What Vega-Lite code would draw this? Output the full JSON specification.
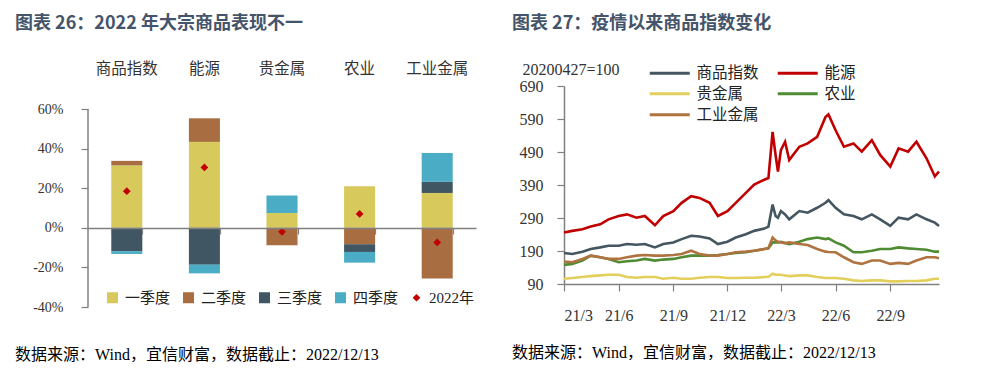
{
  "$schema": "https://vega.github.io/schema/vega-lite/v6.json",
  "background": "white",
  "padding": {"left": 15, "top": 15, "right": 5, "bottom": 0},
  "spacing": 36,
  "resolve": {"scale": {"color": "independent"}, "legend": {"color": "independent"}},
  "config": {
    "view": {"stroke": null},
    "font": "Liberation Serif, Noto Sans CJK SC",
    "axis": {"grid": false, "labelColor": "#333333", "domainColor": "#808080", "tickColor": "#808080", "domainWidth": 1.5, "tickWidth": 1.2, "labelFont": "Liberation Serif, Noto Sans CJK SC"},
    "legend": {"padding": 0, "labelColor": "#222222", "labelFont": "Noto Sans CJK SC"},
    "title": {"font": "Noto Sans CJK SC", "fontWeight": "bold", "fontSize": 18, "color": "#44546A"}
  },
  "hconcat": [
    {
      "title": {"text": "数据来源：Wind，宜信财富，数据截止：2022/12/13", "orient": "bottom", "anchor": "start", "offset": 33, "fontSize": 16, "fontWeight": "normal", "font": "Liberation Serif, Noto Sans CJK SC", "color": "#000000"},
      "vconcat": [
        {
          "title": {"text": "图表 26：2022 年大宗商品表现不一", "anchor": "start", "frame": "group", "dx": -73, "offset": 28},
          "width": 388,
          "height": 221,
          "data": {"values": [
            {"c": "商品指数", "s": "一季度", "q": 1, "v": 0.315},
            {"c": "商品指数", "s": "二季度", "q": 2, "v": 0.023},
            {"c": "商品指数", "s": "三季度", "q": 3, "v": -0.118},
            {"c": "商品指数", "s": "四季度", "q": 4, "v": -0.014},
            {"c": "商品指数", "s": "2022年", "q": 5, "v": 0.185},
            {"c": "能源", "s": "一季度", "q": 1, "v": 0.434},
            {"c": "能源", "s": "二季度", "q": 2, "v": 0.119},
            {"c": "能源", "s": "三季度", "q": 3, "v": -0.186},
            {"c": "能源", "s": "四季度", "q": 4, "v": -0.044},
            {"c": "能源", "s": "2022年", "q": 5, "v": 0.305},
            {"c": "贵金属", "s": "一季度", "q": 1, "v": 0.075},
            {"c": "贵金属", "s": "二季度", "q": 2, "v": -0.088},
            {"c": "贵金属", "s": "三季度", "q": 3, "v": 0.0},
            {"c": "贵金属", "s": "四季度", "q": 4, "v": 0.088},
            {"c": "贵金属", "s": "2022年", "q": 5, "v": -0.020},
            {"c": "农业", "s": "一季度", "q": 1, "v": 0.210},
            {"c": "农业", "s": "二季度", "q": 2, "v": -0.083},
            {"c": "农业", "s": "三季度", "q": 3, "v": -0.039},
            {"c": "农业", "s": "四季度", "q": 4, "v": -0.054},
            {"c": "农业", "s": "2022年", "q": 5, "v": 0.070},
            {"c": "工业金属", "s": "一季度", "q": 1, "v": 0.176},
            {"c": "工业金属", "s": "二季度", "q": 2, "v": -0.256},
            {"c": "工业金属", "s": "三季度", "q": 3, "v": 0.056},
            {"c": "工业金属", "s": "四季度", "q": 4, "v": 0.146},
            {"c": "工业金属", "s": "2022年", "q": 5, "v": -0.074}
          ]},
          "resolve": {"axis": {"x": "independent", "y": "independent"}},
          "layer": [
            {
              "transform": [{"filter": "datum.s !== '2022年'"}],
              "mark": {"type": "bar"},
              "encoding": {
                "x": {"field": "c", "type": "nominal", "sort": ["商品指数", "能源", "贵金属", "农业", "工业金属"],
                  "scale": {"paddingInner": 0.6, "paddingOuter": 0.3},
                  "axis": {"orient": "top", "title": null, "labelAngle": 0, "ticks": false, "tickSize": 0, "domain": false, "labelPadding": 10, "labelFontSize": 15.5, "labelFont": "Noto Sans CJK SC", "labelColor": "#333333"}},
                "y": {"field": "v", "type": "quantitative", "stack": "zero",
                  "scale": {"domain": [-0.4, 0.7162], "nice": false},
                  "axis": {"title": null, "values": [-0.4, -0.2, 0, 0.2, 0.4, 0.6], "format": ".0%", "labelExpr": "replace(datum.label, '−', '-')", "domain": false, "labelOverlap": false, "tickSize": 7, "labelPadding": 18, "labelFontSize": 14}},
                "color": {"field": "s", "type": "nominal",
                  "scale": {"domain": ["一季度", "二季度", "三季度", "四季度", "2022年"], "range": ["#D8C95C", "#A86D41", "#405662", "#4AACC5", "#C00000"]},
                  "legend": {"orient": "none", "legendX": 17, "legendY": 204, "direction": "horizontal", "title": null, "symbolType": "square", "symbolSize": 121, "symbolStrokeWidth": 0, "labelFontSize": 15, "labelFont": "Liberation Serif, Noto Sans CJK SC", "labelOffset": 5, "columnPadding": 10,
                    "encode": {"symbols": {"update": {"shape": {"signal": "datum.value === '2022年' ? 'diamond' : 'square'"}, "size": {"signal": "datum.value === '2022年' ? 60 : 121"}}}}}},
                "order": {"field": "q", "type": "quantitative"}
              }
            },
            {
              "transform": [{"filter": "datum.s === '2022年'"}],
              "mark": {"type": "point", "shape": "diamond", "filled": true, "size": 60, "opacity": 1},
              "encoding": {
                "x": {"field": "c", "type": "nominal", "sort": ["商品指数", "能源", "贵金属", "农业", "工业金属"],
                  "axis": {"orient": "bottom", "offset": -79, "labels": false, "title": null, "domain": true, "ticks": true, "tickSize": 6, "tickBand": "extent", "zindex": 1}},
                "y": {"field": "v", "type": "quantitative", "stack": null, "axis": null},
                "color": {"field": "s", "type": "nominal"}
              }
            },
            {
              "data": {"values": [{}]},
              "mark": {"type": "rule", "color": "#808080", "strokeWidth": 1.5},
              "encoding": {
                "x": {"datum": "商品指数", "type": "nominal", "bandPosition": -0.75, "axis": null},
                "y": {"datum": -0.4, "type": "quantitative", "axis": null},
                "y2": {"datum": 0.6}
              }
            }
          ]
        }
      ]
    },
    {
      "title": {"text": "数据来源：Wind，宜信财富，数据截止：2022/12/13", "orient": "bottom", "anchor": "start", "offset": 22, "fontSize": 16, "fontWeight": "normal", "font": "Liberation Serif, Noto Sans CJK SC", "color": "#000000"},
      "vconcat": [
        {
          "title": {"text": "图表 27：疫情以来商品指数变化", "anchor": "start", "frame": "group", "dx": -52, "offset": 28},
          "width": 375,
          "height": 198,
          "data": {"values": [
            {"d": "2021-03-01", "商品指数": 184, "能源": 246, "贵金属": 106, "农业": 148, "工业金属": 158},
            {"d": "2021-03-15", "商品指数": 181, "能源": 251, "贵金属": 108, "农业": 151, "工业金属": 156},
            {"d": "2021-04-01", "商品指数": 188, "能源": 256, "贵金属": 111, "农业": 161, "工业金属": 166},
            {"d": "2021-04-15", "商品指数": 196, "能源": 264, "贵金属": 114, "农业": 176, "工业金属": 176},
            {"d": "2021-05-01", "商品指数": 201, "能源": 271, "贵金属": 116, "农业": 171, "工业金属": 171},
            {"d": "2021-05-15", "商品指数": 206, "能源": 286, "贵金属": 118, "农业": 166, "工业金属": 166},
            {"d": "2021-06-01", "商品指数": 206, "能源": 296, "贵金属": 118, "农业": 156, "工业金属": 166},
            {"d": "2021-06-15", "商品指数": 211, "能源": 301, "贵金属": 111, "农业": 159, "工业金属": 171},
            {"d": "2021-07-01", "商品指数": 209, "能源": 291, "贵金属": 109, "农业": 161, "工业金属": 176},
            {"d": "2021-07-15", "商品指数": 211, "能源": 296, "贵金属": 111, "农业": 166, "工业金属": 178},
            {"d": "2021-08-01", "商品指数": 201, "能源": 268, "贵金属": 111, "农业": 161, "工业金属": 176},
            {"d": "2021-08-15", "商品指数": 211, "能源": 296, "贵金属": 106, "农业": 164, "工业金属": 176},
            {"d": "2021-09-01", "商品指数": 216, "能源": 311, "贵金属": 109, "农业": 166, "工业金属": 178},
            {"d": "2021-09-15", "商品指数": 226, "能源": 336, "贵金属": 106, "农业": 171, "工业金属": 181},
            {"d": "2021-10-01", "商品指数": 236, "能源": 356, "贵金属": 106, "农业": 176, "工业金属": 191},
            {"d": "2021-10-15", "商品指数": 234, "能源": 351, "贵金属": 109, "农业": 176, "工业金属": 181},
            {"d": "2021-11-01", "商品指数": 228, "能源": 336, "贵金属": 111, "农业": 176, "工业金属": 176},
            {"d": "2021-11-15", "商品指数": 211, "能源": 296, "贵金属": 111, "农业": 178, "工业金属": 176},
            {"d": "2021-12-01", "商品指数": 218, "能源": 311, "贵金属": 108, "农业": 181, "工业金属": 181},
            {"d": "2021-12-15", "商品指数": 231, "能源": 336, "贵金属": 108, "农业": 184, "工业金属": 186},
            {"d": "2022-01-01", "商品指数": 241, "能源": 366, "贵金属": 109, "农业": 186, "工业金属": 188},
            {"d": "2022-01-15", "商品指数": 251, "能源": 391, "贵金属": 109, "农业": 191, "工业金属": 191},
            {"d": "2022-02-01", "商品指数": 258, "能源": 406, "贵金属": 111, "农业": 196, "工业金属": 196},
            {"d": "2022-02-08", "商品指数": 264, "能源": 411, "贵金属": 112, "农业": 198, "工业金属": 199},
            {"d": "2022-02-15", "商品指数": 331, "能源": 551, "贵金属": 121, "农业": 216, "工业金属": 231},
            {"d": "2022-02-20", "商品指数": 296, "能源": 481, "贵金属": 118, "农业": 216, "工业金属": 222},
            {"d": "2022-02-24", "商品指数": 291, "能源": 431, "贵金属": 118, "农业": 216, "工业金属": 218},
            {"d": "2022-03-01", "商品指数": 311, "能源": 496, "贵金属": 118, "农业": 218, "工业金属": 216},
            {"d": "2022-03-08", "商品指数": 301, "能源": 521, "贵金属": 116, "农业": 214, "工业金属": 214},
            {"d": "2022-03-15", "商品指数": 286, "能源": 466, "贵金属": 114, "农业": 211, "工业金属": 216},
            {"d": "2022-04-01", "商品指数": 311, "能源": 506, "贵金属": 116, "农业": 218, "工业金属": 211},
            {"d": "2022-04-15", "商品指数": 306, "能源": 516, "贵金属": 116, "农业": 226, "工业金属": 208},
            {"d": "2022-05-01", "商品指数": 321, "能源": 536, "贵金属": 111, "农业": 231, "工业金属": 196},
            {"d": "2022-05-15", "商品指数": 336, "能源": 596, "贵金属": 108, "农业": 226, "工业金属": 188},
            {"d": "2022-05-20", "商品指数": 344, "能源": 604, "贵金属": 108, "农业": 228, "工业金属": 187},
            {"d": "2022-06-01", "商品指数": 321, "能源": 556, "贵金属": 108, "农业": 216, "工业金属": 186},
            {"d": "2022-06-15", "商品指数": 301, "能源": 506, "贵金属": 106, "农业": 206, "工业金属": 171},
            {"d": "2022-07-01", "商品指数": 296, "能源": 516, "贵金属": 101, "农业": 186, "工业金属": 156},
            {"d": "2022-07-15", "商品指数": 286, "能源": 491, "贵金属": 99, "农业": 186, "工业金属": 151},
            {"d": "2022-08-01", "商品指数": 301, "能源": 526, "贵金属": 101, "农业": 191, "工业金属": 161},
            {"d": "2022-08-15", "商品指数": 286, "能源": 481, "贵金属": 101, "农业": 196, "工业金属": 161},
            {"d": "2022-09-01", "商品指数": 266, "能源": 446, "贵金属": 98, "农业": 196, "工业金属": 151},
            {"d": "2022-09-15", "商品指数": 291, "能源": 501, "贵金属": 98, "农业": 201, "工业金属": 154},
            {"d": "2022-10-01", "商品指数": 286, "能源": 491, "贵金属": 99, "农业": 198, "工业金属": 151},
            {"d": "2022-10-15", "商品指数": 301, "能源": 521, "贵金属": 99, "农业": 196, "工业金属": 161},
            {"d": "2022-11-01", "商品指数": 286, "能源": 471, "贵金属": 101, "农业": 194, "工业金属": 171},
            {"d": "2022-11-15", "商品指数": 276, "能源": 416, "贵金属": 106, "农业": 188, "工业金属": 171},
            {"d": "2022-11-22", "商品指数": 266, "能源": 431, "贵金属": 106, "农业": 188, "工业金属": 168}
          ]},
          "transform": [{"fold": ["商品指数", "能源", "贵金属", "农业", "工业金属"], "as": ["k", "v"]}],
          "mark": {"type": "line", "strokeWidth": 2.6},
          "encoding": {
            "x": {"field": "d", "type": "temporal",
              "scale": {"type": "utc", "domain": [{"year": 2021, "month": 3, "date": 1, "utc": true}, {"year": 2022, "month": 11, "date": 22, "utc": true}]},
              "axis": {"title": null, "format": "%y/%-m", "tickSize": 7, "labelPadding": 16, "labelFontSize": 16,
                "values": [{"year": 2021, "month": 3, "date": 1, "utc": true}, {"year": 2021, "month": 6, "date": 1, "utc": true}, {"year": 2021, "month": 9, "date": 1, "utc": true}, {"year": 2021, "month": 12, "date": 1, "utc": true}, {"year": 2022, "month": 3, "date": 1, "utc": true}, {"year": 2022, "month": 6, "date": 1, "utc": true}, {"year": 2022, "month": 9, "date": 1, "utc": true}]}},
            "y": {"field": "v", "type": "quantitative",
              "scale": {"domain": [90, 690], "nice": false, "zero": false},
              "axis": {"values": [90, 190, 290, 390, 490, 590, 690], "title": "20200427=100", "titleAngle": 0, "titleAlign": "left", "titleBaseline": "middle", "titleX": -42, "titleY": -17, "titleFontSize": 16, "titleFontWeight": "normal", "titleColor": "#333333", "titleFont": "Liberation Serif", "labelFontSize": 16, "tickSize": 7, "labelPadding": 14}},
            "color": {"field": "k", "type": "nominal",
              "scale": {"domain": ["商品指数", "能源", "贵金属", "农业", "工业金属"], "range": ["#44565F", "#C00000", "#E3CF5B", "#4E8B32", "#B0733F"]},
              "legend": {"orient": "none", "legendX": 98, "legendY": -21, "columns": 2, "direction": "horizontal", "title": null, "symbolType": "M-4,0H4", "symbolSize": 100, "symbolStrokeWidth": 3, "labelOffset": 19, "columnPadding": 12, "rowPadding": 4, "labelFontSize": 15.5}}
          }
        }
      ]
    }
  ]
}
